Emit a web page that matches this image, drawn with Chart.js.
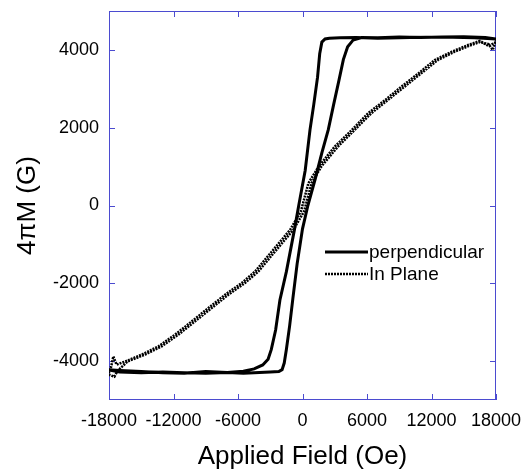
<!DOCTYPE html>
<html>
<head>
<meta charset="utf-8">
<script src="https://cdn.jsdelivr.net/npm/chart.js@4.4.1/dist/chart.umd.min.js"></script>
<style>
  html, body { margin: 0; padding: 0; background: #fff; }
</style>
</head>
<body>
<canvas id="loop" width="527" height="472"></canvas>
<script>
// tick labels
const xTicks = [-18000, -12000, -6000, 0, 6000, 12000, 18000];
const yTicks = [-4000, -2000, 0, 2000, 4000];

// perpendicular loop, branch coming down from +H
const perpDownX = [18000, 16000, 13000, 10000, 7000, 5000, 3500, 2500, 2100, 1800, 1600, 1400, 1050, 700, 250, -350, -750, -1500, -2100, -2500, -2900, -3200, -3700, -4500, -5500, -7000, -9000, -11000, -13000, -15000, -17000, -18000];
const perpDownY = [4280, 4310, 4330, 4320, 4300, 4320, 4310, 4300, 4280, 4200, 3900, 3300, 2600, 1950, 900, 0, -620, -1700, -2430, -3200, -3700, -3950, -4100, -4200, -4260, -4290, -4270, -4310, -4300, -4270, -4240, -4220];
// perpendicular loop, branch going up from -H
const perpUpX = [-18000, -17000, -15000, -13000, -11000, -9000, -7000, -5500, -4000, -3000, -2200, -1900, -1700, -1500, -1200, -900, -500, 0, 500, 1200, 1800, 2400, 2900, 3400, 3800, 4200, 4700, 5500, 7000, 9000, 11000, 13000, 15000, 17000, 18000];
const perpUpY = [-4230, -4280, -4300, -4280, -4300, -4310, -4290, -4310, -4290, -4280, -4270, -4220, -4050, -3700, -3100, -2400, -1500, -600, 0, 700, 1350, 1950, 2600, 3230, 3750, 4080, 4250, 4320, 4310, 4330, 4320, 4330, 4340, 4320, 4280];

// in plane loop
const planeDownX = [18000, 17300, 16500, 15400, 13900, 12300, 10800, 9200, 7700, 6100, 4600, 3000, 1500, 550, -150, -1150, -3150, -4400, -5650, -7200, -8750, -10300, -11850, -13400, -14950, -16450, -17300, -17600, -17800, -18000];
const planeDownY = [4200, 4100, 4230, 4126, 3954, 3741, 3399, 3055, 2714, 2372, 1943, 1515, 1001, 575, -150, -624, -1280, -1694, -1992, -2293, -2634, -2978, -3320, -3620, -3833, -4005, -4090, -3880, -4150, -4200];
const planeUpX = [-18000, -17500, -17200, -16250, -14650, -13100, -11550, -10000, -8450, -6900, -5350, -4100, -2850, -850, 150, 850, 1750, 3300, 4850, 6400, 7950, 9500, 11050, 12600, 14150, 15700, 16500, 17300, 17700, 18000];
const planeUpY = [-4350, -4400, -4250, -4005, -3833, -3620, -3320, -2978, -2634, -2293, -1992, -1694, -1280, -624, -150, 575, 1001, 1515, 1943, 2372, 2714, 3055, 3399, 3741, 3954, 4126, 4200, 4150, 4000, 4250];

const frameColor = '#4b4bd0';
const fontFamily = "'Liberation Sans', Arial, sans-serif";

function toPoints(xs, ys) {
    return xs.map((x, i) => ({ x: x, y: ys[i] }));
}

const perpPoints = toPoints(perpDownX, perpDownY).concat(toPoints(perpUpX, perpUpY));
const planePoints = toPoints(planeDownX, planeDownY).concat(toPoints(planeUpX, planeUpY));

// blue box with inward ticks, and the little legend inside the plot
const framePlugin = {
    id: 'frame',
    beforeDatasetsDraw(chart) {
        const { ctx, chartArea: a, scales: { x, y } } = chart;
        ctx.save();
        ctx.strokeStyle = frameColor;
        ctx.lineWidth = 1;
        ctx.strokeRect(a.left + 0.5, a.top + 0.5, a.right - a.left - 1, a.bottom - a.top - 1);
        ctx.beginPath();
        xTicks.forEach(v => {
            const px = Math.round(x.getPixelForValue(v)) + 0.5;
            ctx.moveTo(px, a.bottom);
            ctx.lineTo(px, a.bottom - 6);
            ctx.moveTo(px, a.top);
            ctx.lineTo(px, a.top + 6);
        });
        yTicks.forEach(v => {
            const py = Math.round(y.getPixelForValue(v)) + 0.5;
            ctx.moveTo(a.left, py);
            ctx.lineTo(a.left + 6, py);
            ctx.moveTo(a.right, py);
            ctx.lineTo(a.right - 6, py);
        });
        ctx.stroke();
        ctx.restore();
    },
    afterDraw(chart) {
        const { ctx, chartArea: a } = chart;
        const x0 = a.left + 216;
        const x1 = a.left + 259;
        let yy = a.top + 241;
        ctx.save();
        ctx.font = '19px ' + fontFamily;
        ctx.textBaseline = 'middle';
        ctx.fillStyle = '#000';
        chart.data.datasets.forEach(ds => {
            ctx.beginPath();
            ctx.strokeStyle = ds.borderColor;
            ctx.lineWidth = ds.borderWidth;
            ctx.setLineDash(ds.borderDash || []);
            ctx.moveTo(x0, yy);
            ctx.lineTo(x1, yy);
            ctx.stroke();
            ctx.fillText(ds.label, x1 + 1, yy + 1);
            yy += 22;
        });
        ctx.restore();
    }
};

new Chart(document.getElementById('loop'), {
    type: 'scatter',
    data: {
        datasets: [
            {
                label: 'perpendicular',
                data: perpPoints,
                showLine: true,
                borderColor: '#000',
                borderWidth: 3,
                pointRadius: 0,
                tension: 0
            },
            {
                label: 'In Plane',
                data: planePoints,
                showLine: true,
                borderColor: '#000',
                borderWidth: 2.5,
                borderDash: [2, 1],
                pointRadius: 0,
                tension: 0
            }
        ]
    },
    options: {
        responsive: false,
        animation: false,
        layout: { padding: { top: 11, right: 31, left: 0, bottom: 0 } },
        plugins: {
            legend: { display: false },
            tooltip: { enabled: false }
        },
        scales: {
            x: {
                type: 'linear',
                min: -18000,
                max: 18000,
                afterBuildTicks: s => { s.ticks = xTicks.map(v => ({ value: v })); },
                afterFit: s => { s.height = 72; s.paddingLeft = 0; s.paddingRight = 0; },
                grid: { display: false, drawTicks: false },
                border: { display: false },
                ticks: {
                    autoSkip: false,
                    maxRotation: 0,
                    padding: 10,
                    color: '#000',
                    font: { family: fontFamily, size: 18 },
                    callback: v => String(v)
                },
                title: {
                    display: true,
                    text: 'Applied Field (Oe)',
                    color: '#000',
                    font: { family: fontFamily, size: 26 },
                    padding: { top: 0, bottom: 0 }
                }
            },
            y: {
                type: 'linear',
                min: -5000,
                max: 5000,
                afterBuildTicks: s => { s.ticks = yTicks.map(v => ({ value: v })); },
                afterFit: s => { s.width = 109; s.paddingTop = 0; s.paddingBottom = 0; },
                grid: { display: false, drawTicks: false },
                border: { display: false },
                ticks: {
                    padding: 10,
                    color: '#000',
                    font: { family: fontFamily, size: 18 },
                    callback: v => String(v)
                },
                title: {
                    display: true,
                    text: '4πM (G)',
                    color: '#000',
                    font: { family: fontFamily, size: 26 },
                    padding: { top: 12, bottom: 0 }
                }
            }
        }
    },
    plugins: [framePlugin]
});
</script>
</body>
</html>
